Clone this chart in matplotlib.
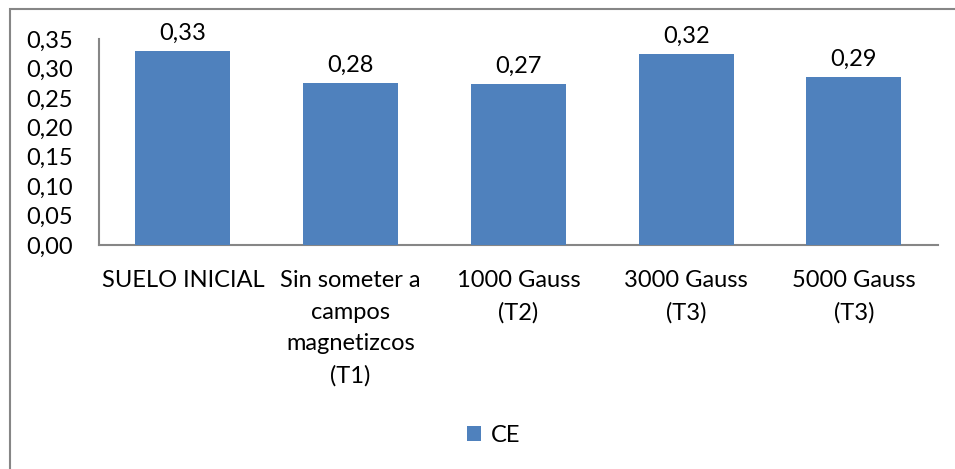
import matplotlib.pyplot as plt
from matplotlib.patches import Rectangle
import numpy as np

categories = ['SUELO INICIAL', 'Sin someter a\ncampos\nmagnetizcos\n(T1)',
              '1000 Gauss\n(T2)', '3000 Gauss\n(T3)', '5000 Gauss\n(T3)']
ce_values = [0.33, 0.276, 0.274, 0.324, 0.286]
y_ticks = [0.00, 0.05, 0.10, 0.15, 0.20, 0.25, 0.30, 0.35]

BLUE = '#4F81BD'
GRAY = '#868686'
plt.rcParams.update({'font.family': ['Lato', 'DejaVu Sans'], 'font.size': 17})

fig = plt.figure(figsize=(9.55, 4.69), dpi=100)
ax = fig.add_axes([0.1037, 0.4776, 0.8783, 0.4392])

# outer chart frame (only top/left edges fall inside the image)
fig.patches.append(Rectangle((10 / 955, -0.1), 1.2, 1 - 9 / 469 + 0.1,
                             transform=fig.transFigure, fill=False,
                             edgecolor=GRAY, linewidth=1.5))

x = np.arange(len(categories))
bars = ax.bar(x, ce_values, width=0.566, color=BLUE, label='CE', zorder=3)
for bar, val in zip(bars, ce_values):
    ax.text(bar.get_x() + bar.get_width() / 2, val + 0.012,
            f'{val:.2f}'.replace('.', ','), ha='center', va='bottom')

ax.set_xlim(-0.5, len(categories) - 0.5)
ax.set_ylim(0, 0.35)
ax.set_yticks(y_ticks)
ax.set_yticklabels([f'{t:.2f}'.replace('.', ',') for t in y_ticks])
ax.set_xticks(x)
ax.set_xticklabels(categories, linespacing=1.62, va='top')
ax.tick_params(axis='both', length=0, colors='black')
ax.tick_params(axis='y', pad=19)
ax.tick_params(axis='x', pad=18)

for side in ['top', 'right']:
    ax.spines[side].set_visible(False)
for side in ['left', 'bottom']:
    ax.spines[side].set_color(GRAY)
    ax.spines[side].set_linewidth(1.5)

fig.legend(loc='center', bbox_to_anchor=(0.517, 0.072), frameon=False,
           handlelength=0.6, handleheight=0.6, handletextpad=0.4)

fig.savefig('out.png', dpi=100, facecolor='white')
